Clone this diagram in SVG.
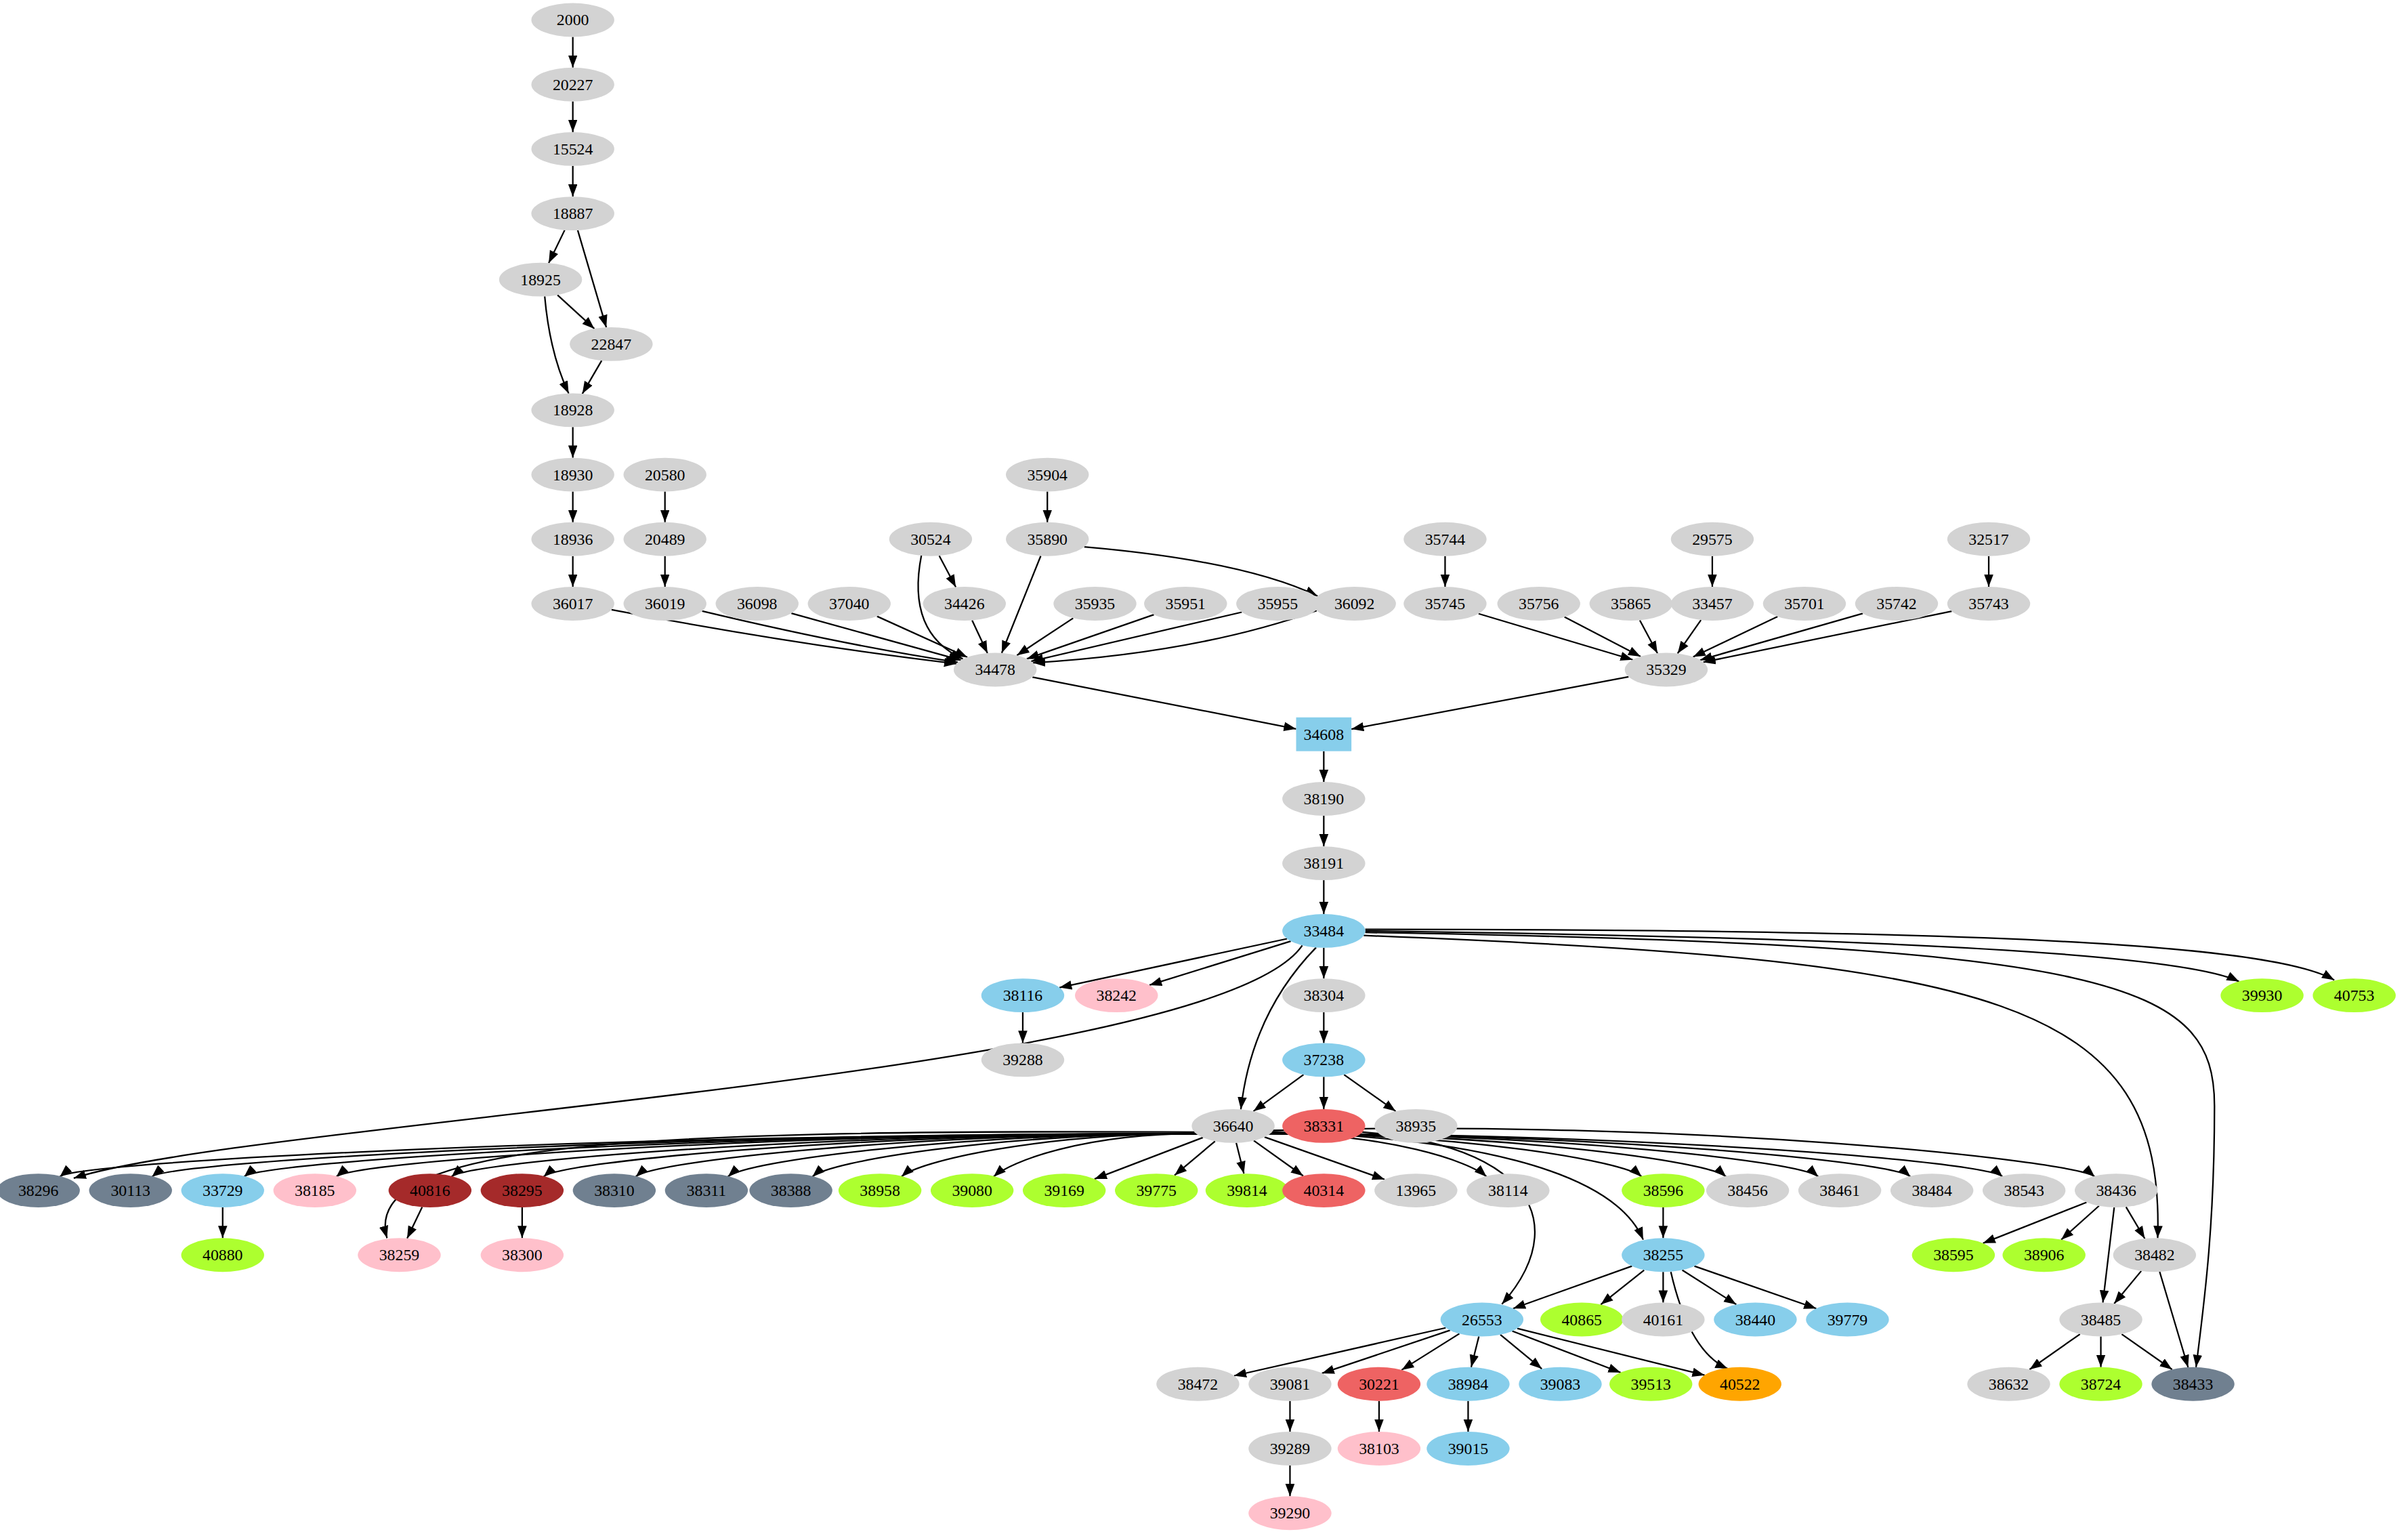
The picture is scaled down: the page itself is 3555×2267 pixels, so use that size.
<svg xmlns="http://www.w3.org/2000/svg" width="3555" height="2267" viewBox="0 0 3555 2267">
<style>
.g{fill:#d3d3d3}.b{fill:#87ceeb}.p{fill:#ffc0cb}.y{fill:#adff2f}.s{fill:#708090}.r{fill:#a52a2a}.e{fill:#ee6363}.o{fill:#ffa500}
text{font-family:"Liberation Serif",serif;font-size:10.5px;text-anchor:middle;dominant-baseline:central;fill:#000}
#edges path{fill:none;stroke:#000;stroke-width:1;marker-end:url(#a)}
</style>
<defs><marker id="a" markerUnits="userSpaceOnUse" markerWidth="10" markerHeight="8" refX="8" refY="3" orient="auto"><path d="M0,0L8,3L0,6z" fill="#000"/></marker></defs>
<rect width="3555" height="2267" fill="#fff"/>
<g transform="scale(2.2672)">
<g id="edges">
<path d="M373,24V44"/><path d="M373,66V86"/><path d="M373,108V128"/>
<path d="M367.7,149.8L357.3,171.2"/><path d="M376.2,149.9L394.8,213.1"/><path d="M363,192L387,214"/>
<path d="M354.7,192.9Q358,230 370.3,256.1"/><path d="M391.8,234.7L379.2,256.3"/>
<path d="M373,278V298"/><path d="M373,320V340"/><path d="M373,362V382"/>
<path d="M433,320V340"/><path d="M433,362V382"/>
<path d="M682,320V340"/><path d="M941,362V382"/><path d="M1115,362V382"/><path d="M1295,362V382"/>
<path d="M398.2,396.9Q520,420 622.8,432.1"/><path d="M457.2,397.8Q550,420 623.8,431.2"/><path d="M515.3,399.2L625.7,429.8"/><path d="M571.1,401.2L629.9,427.8"/>
<path d="M600,361.5Q590,412 627,429"/><path d="M611.6,361.8L622.4,382.2"/><path d="M633,403.8L643,425.2"/>
<path d="M677.7,361.9L652.3,425.1"/><path d="M706,356Q810,365 858,388"/>
<path d="M698.8,402.4L662.2,426.6"/><path d="M751.4,400.1L668.6,428.9"/><path d="M808.6,398.5L671.4,430.5"/><path d="M857.4,397.5Q780,425 672.6,431.5"/>
<path d="M962.8,399.5L1063.2,429.5"/><path d="M1018.7,401.6L1068.3,427.4"/><path d="M1067.8,403.8L1079.3,425.3"/><path d="M1107.6,403.6L1092.4,425.4"/><path d="M1157.5,401.4L1102.5,427.6"/><path d="M1213,399.3L1107,429.7"/><path d="M1270.9,397.9L1109.1,431.1"/>
<path d="M672.3,440.8L844,474.5"/><path d="M1060.5,440.6L880,474.6"/>
<path d="M862,489V509"/><path d="M862,531V551"/><path d="M862,573V595"/>
<path d="M838.1,611.1L689.9,642.9"/><path d="M840.5,612.7L748.5,641.3"/><path d="M862,617V637"/>
<path d="M857,616.8Q815,660 808,722.2"/>
<path d="M848,615.5C790,700 160,730 48,767"/>
<path d="M888,609C1300,625 1410,650 1405,806"/>
<path d="M889,607C1380,615 1442,640 1442,720C1442,800 1435,850 1430,890"/>
<path d="M889,606C1200,610 1420,620 1458,639"/><path d="M889,605C1300,605 1480,615 1520,638"/>
<path d="M666,659V679"/><path d="M862,659V679"/>
<path d="M848.8,699.6L816.2,723.4"/><path d="M862,701V722"/><path d="M875.2,699.6L908.8,723.4"/>
<path d="M780,738C402,738 50,756 39,766"/>
<path d="M780,738C432,738 110,756 99,766"/>
<path d="M780,738C462,738 170,756 159,766"/>
<path d="M780,738C492,738 230,756 219,766"/>
<path d="M780,738C530,738 305,756 294,766"/>
<path d="M780,738C560,738 365,756 354,766"/>
<path d="M780,738C590,738 425,756 414,766"/>
<path d="M780,738C620,738 485,756 474,766"/>
<path d="M780,738C648,738 540,756 529,766"/>
<path d="M780,738C676,738 598,756 587,766"/>
<path d="M780,738C706,738 658,756 647,766"/>
<path d="M783.3,740.5L712.7,767.5"/><path d="M791.2,742.9L764.8,765.1"/>
<path d="M805,744L810,764"/><path d="M816.4,742.5L848.6,765.5"/><path d="M823.4,740.2L901.6,767.8"/>
<path d="M826,738C904,738 957,756 968,766"/>
<path d="M826,738C954,738 1058,756 1069,766"/>
<path d="M826,738C982,738 1113,756 1124,766"/>
<path d="M826,738C1012,738 1173,756 1184,766"/>
<path d="M826,738C1042,738 1233,756 1244,766"/>
<path d="M826,738C1072,738 1293,756 1304,766"/>
<path d="M826,736C1102,728 1353,756 1364,766"/>
<path d="M828,737C950,740 1050,760 1070,807"/>
<path d="M829,736C990,730 1030,790 978,849"/>
<path d="M778,737C400,735 235,745 252,806"/>
<path d="M145,786V806"/><path d="M274.9,785.8L265.1,806.2"/><path d="M340,786V806"/><path d="M1083,786V806"/>
<path d="M1358.7,782.7L1291.3,809.3"/><path d="M1366.8,785L1342.2,807"/><path d="M1384.4,785.7L1396.6,806.3"/><path d="M1376.7,786L1369.3,848"/>
<path d="M1394.3,827.4L1376.7,848.6"/><path d="M1406.3,827.9L1424.8,890.1"/>
<path d="M1354.4,868.5L1321.6,891.5"/><path d="M1368,870V890"/><path d="M1381.6,868.5L1414.4,891.5"/>
<path d="M1062.7,824.2L985.3,851.8"/><path d="M1070.6,826.8L1042.4,849.2"/><path d="M1083,828V848"/><path d="M1095.4,826.8L1130.6,849.2"/><path d="M1103.3,824.2L1182.7,851.8"/>
<path d="M1088,828Q1100,880 1125,891"/>
<path d="M941.4,864.4L803.6,895.6"/><path d="M944.2,866L860.8,894"/><path d="M950.3,868.2L912.7,891.8"/><path d="M963,870L958,890"/><path d="M977,868.9L1004,891.1"/><path d="M984.7,866.5L1055.3,893.5"/><path d="M988,864.75L1110,895.25"/>
<path d="M840,912V932"/><path d="M840,954V974"/><path d="M898,912V932"/><path d="M956,912V932"/>
</g>
<g id="n34608"><rect x="844" y="467" width="36" height="22" class="b"/><text x="862" y="478">34608</text></g>
<g id="n2000"><ellipse cx="373" cy="13" rx="27" ry="11" class="g"/><text x="373" y="13">2000</text></g>
<g id="n20227"><ellipse cx="373" cy="55" rx="27" ry="11" class="g"/><text x="373" y="55">20227</text></g>
<g id="n15524"><ellipse cx="373" cy="97" rx="27" ry="11" class="g"/><text x="373" y="97">15524</text></g>
<g id="n18887"><ellipse cx="373" cy="139" rx="27" ry="11" class="g"/><text x="373" y="139">18887</text></g>
<g id="n18925"><ellipse cx="352" cy="182" rx="27" ry="11" class="g"/><text x="352" y="182">18925</text></g>
<g id="n22847"><ellipse cx="398" cy="224" rx="27" ry="11" class="g"/><text x="398" y="224">22847</text></g>
<g id="n18928"><ellipse cx="373" cy="267" rx="27" ry="11" class="g"/><text x="373" y="267">18928</text></g>
<g id="n18930"><ellipse cx="373" cy="309" rx="27" ry="11" class="g"/><text x="373" y="309">18930</text></g>
<g id="n18936"><ellipse cx="373" cy="351" rx="27" ry="11" class="g"/><text x="373" y="351">18936</text></g>
<g id="n20580"><ellipse cx="433" cy="309" rx="27" ry="11" class="g"/><text x="433" y="309">20580</text></g>
<g id="n20489"><ellipse cx="433" cy="351" rx="27" ry="11" class="g"/><text x="433" y="351">20489</text></g>
<g id="n36017"><ellipse cx="373" cy="393" rx="27" ry="11" class="g"/><text x="373" y="393">36017</text></g>
<g id="n36019"><ellipse cx="433" cy="393" rx="27" ry="11" class="g"/><text x="433" y="393">36019</text></g>
<g id="n36098"><ellipse cx="493" cy="393" rx="27" ry="11" class="g"/><text x="493" y="393">36098</text></g>
<g id="n37040"><ellipse cx="553" cy="393" rx="27" ry="11" class="g"/><text x="553" y="393">37040</text></g>
<g id="n30524"><ellipse cx="606" cy="351" rx="27" ry="11" class="g"/><text x="606" y="351">30524</text></g>
<g id="n34426"><ellipse cx="628" cy="393" rx="27" ry="11" class="g"/><text x="628" y="393">34426</text></g>
<g id="n35904"><ellipse cx="682" cy="309" rx="27" ry="11" class="g"/><text x="682" y="309">35904</text></g>
<g id="n35890"><ellipse cx="682" cy="351" rx="27" ry="11" class="g"/><text x="682" y="351">35890</text></g>
<g id="n35935"><ellipse cx="713" cy="393" rx="27" ry="11" class="g"/><text x="713" y="393">35935</text></g>
<g id="n35951"><ellipse cx="772" cy="393" rx="27" ry="11" class="g"/><text x="772" y="393">35951</text></g>
<g id="n35955"><ellipse cx="832" cy="393" rx="27" ry="11" class="g"/><text x="832" y="393">35955</text></g>
<g id="n36092"><ellipse cx="882" cy="393" rx="27" ry="11" class="g"/><text x="882" y="393">36092</text></g>
<g id="n34478"><ellipse cx="648" cy="436" rx="27" ry="11" class="g"/><text x="648" y="436">34478</text></g>
<g id="n35744"><ellipse cx="941" cy="351" rx="27" ry="11" class="g"/><text x="941" y="351">35744</text></g>
<g id="n35745"><ellipse cx="941" cy="393" rx="27" ry="11" class="g"/><text x="941" y="393">35745</text></g>
<g id="n35756"><ellipse cx="1002" cy="393" rx="27" ry="11" class="g"/><text x="1002" y="393">35756</text></g>
<g id="n35865"><ellipse cx="1062" cy="393" rx="27" ry="11" class="g"/><text x="1062" y="393">35865</text></g>
<g id="n29575"><ellipse cx="1115" cy="351" rx="27" ry="11" class="g"/><text x="1115" y="351">29575</text></g>
<g id="n33457"><ellipse cx="1115" cy="393" rx="27" ry="11" class="g"/><text x="1115" y="393">33457</text></g>
<g id="n35701"><ellipse cx="1175" cy="393" rx="27" ry="11" class="g"/><text x="1175" y="393">35701</text></g>
<g id="n35742"><ellipse cx="1235" cy="393" rx="27" ry="11" class="g"/><text x="1235" y="393">35742</text></g>
<g id="n32517"><ellipse cx="1295" cy="351" rx="27" ry="11" class="g"/><text x="1295" y="351">32517</text></g>
<g id="n35743"><ellipse cx="1295" cy="393" rx="27" ry="11" class="g"/><text x="1295" y="393">35743</text></g>
<g id="n35329"><ellipse cx="1085" cy="436" rx="27" ry="11" class="g"/><text x="1085" y="436">35329</text></g>
<g id="n38190"><ellipse cx="862" cy="520" rx="27" ry="11" class="g"/><text x="862" y="520">38190</text></g>
<g id="n38191"><ellipse cx="862" cy="562" rx="27" ry="11" class="g"/><text x="862" y="562">38191</text></g>
<g id="n33484"><ellipse cx="862" cy="606" rx="27" ry="11" class="b"/><text x="862" y="606">33484</text></g>
<g id="n38116"><ellipse cx="666" cy="648" rx="27" ry="11" class="b"/><text x="666" y="648">38116</text></g>
<g id="n38242"><ellipse cx="727" cy="648" rx="27" ry="11" class="p"/><text x="727" y="648">38242</text></g>
<g id="n38304"><ellipse cx="862" cy="648" rx="27" ry="11" class="g"/><text x="862" y="648">38304</text></g>
<g id="n39930"><ellipse cx="1473" cy="648" rx="27" ry="11" class="y"/><text x="1473" y="648">39930</text></g>
<g id="n40753"><ellipse cx="1533" cy="648" rx="27" ry="11" class="y"/><text x="1533" y="648">40753</text></g>
<g id="n39288"><ellipse cx="666" cy="690" rx="27" ry="11" class="g"/><text x="666" y="690">39288</text></g>
<g id="n37238"><ellipse cx="862" cy="690" rx="27" ry="11" class="b"/><text x="862" y="690">37238</text></g>
<g id="n36640"><ellipse cx="803" cy="733" rx="27" ry="11" class="g"/><text x="803" y="733">36640</text></g>
<g id="n38331"><ellipse cx="862" cy="733" rx="27" ry="11" class="e"/><text x="862" y="733">38331</text></g>
<g id="n38935"><ellipse cx="922" cy="733" rx="27" ry="11" class="g"/><text x="922" y="733">38935</text></g>
<g id="n38296"><ellipse cx="25" cy="775" rx="27" ry="11" class="s"/><text x="25" y="775">38296</text></g>
<g id="n30113"><ellipse cx="85" cy="775" rx="27" ry="11" class="s"/><text x="85" y="775">30113</text></g>
<g id="n33729"><ellipse cx="145" cy="775" rx="27" ry="11" class="b"/><text x="145" y="775">33729</text></g>
<g id="n38185"><ellipse cx="205" cy="775" rx="27" ry="11" class="p"/><text x="205" y="775">38185</text></g>
<g id="n40816"><ellipse cx="280" cy="775" rx="27" ry="11" class="r"/><text x="280" y="775">40816</text></g>
<g id="n38295"><ellipse cx="340" cy="775" rx="27" ry="11" class="r"/><text x="340" y="775">38295</text></g>
<g id="n38310"><ellipse cx="400" cy="775" rx="27" ry="11" class="s"/><text x="400" y="775">38310</text></g>
<g id="n38311"><ellipse cx="460" cy="775" rx="27" ry="11" class="s"/><text x="460" y="775">38311</text></g>
<g id="n38388"><ellipse cx="515" cy="775" rx="27" ry="11" class="s"/><text x="515" y="775">38388</text></g>
<g id="n38958"><ellipse cx="573" cy="775" rx="27" ry="11" class="y"/><text x="573" y="775">38958</text></g>
<g id="n39080"><ellipse cx="633" cy="775" rx="27" ry="11" class="y"/><text x="633" y="775">39080</text></g>
<g id="n39169"><ellipse cx="693" cy="775" rx="27" ry="11" class="y"/><text x="693" y="775">39169</text></g>
<g id="n39775"><ellipse cx="753" cy="775" rx="27" ry="11" class="y"/><text x="753" y="775">39775</text></g>
<g id="n39814"><ellipse cx="812" cy="775" rx="27" ry="11" class="y"/><text x="812" y="775">39814</text></g>
<g id="n40314"><ellipse cx="862" cy="775" rx="27" ry="11" class="e"/><text x="862" y="775">40314</text></g>
<g id="n13965"><ellipse cx="922" cy="775" rx="27" ry="11" class="g"/><text x="922" y="775">13965</text></g>
<g id="n38114"><ellipse cx="982" cy="775" rx="27" ry="11" class="g"/><text x="982" y="775">38114</text></g>
<g id="n38596"><ellipse cx="1083" cy="775" rx="27" ry="11" class="y"/><text x="1083" y="775">38596</text></g>
<g id="n38456"><ellipse cx="1138" cy="775" rx="27" ry="11" class="g"/><text x="1138" y="775">38456</text></g>
<g id="n38461"><ellipse cx="1198" cy="775" rx="27" ry="11" class="g"/><text x="1198" y="775">38461</text></g>
<g id="n38484"><ellipse cx="1258" cy="775" rx="27" ry="11" class="g"/><text x="1258" y="775">38484</text></g>
<g id="n38543"><ellipse cx="1318" cy="775" rx="27" ry="11" class="g"/><text x="1318" y="775">38543</text></g>
<g id="n38436"><ellipse cx="1378" cy="775" rx="27" ry="11" class="g"/><text x="1378" y="775">38436</text></g>
<g id="n40880"><ellipse cx="145" cy="817" rx="27" ry="11" class="y"/><text x="145" y="817">40880</text></g>
<g id="n38259"><ellipse cx="260" cy="817" rx="27" ry="11" class="p"/><text x="260" y="817">38259</text></g>
<g id="n38300"><ellipse cx="340" cy="817" rx="27" ry="11" class="p"/><text x="340" y="817">38300</text></g>
<g id="n38255"><ellipse cx="1083" cy="817" rx="27" ry="11" class="b"/><text x="1083" y="817">38255</text></g>
<g id="n38595"><ellipse cx="1272" cy="817" rx="27" ry="11" class="y"/><text x="1272" y="817">38595</text></g>
<g id="n38906"><ellipse cx="1331" cy="817" rx="27" ry="11" class="y"/><text x="1331" y="817">38906</text></g>
<g id="n38482"><ellipse cx="1403" cy="817" rx="27" ry="11" class="g"/><text x="1403" y="817">38482</text></g>
<g id="n26553"><ellipse cx="965" cy="859" rx="27" ry="11" class="b"/><text x="965" y="859">26553</text></g>
<g id="n40865"><ellipse cx="1030" cy="859" rx="27" ry="11" class="y"/><text x="1030" y="859">40865</text></g>
<g id="n40161"><ellipse cx="1083" cy="859" rx="27" ry="11" class="g"/><text x="1083" y="859">40161</text></g>
<g id="n38440"><ellipse cx="1143" cy="859" rx="27" ry="11" class="b"/><text x="1143" y="859">38440</text></g>
<g id="n39779"><ellipse cx="1203" cy="859" rx="27" ry="11" class="b"/><text x="1203" y="859">39779</text></g>
<g id="n38485"><ellipse cx="1368" cy="859" rx="27" ry="11" class="g"/><text x="1368" y="859">38485</text></g>
<g id="n38472"><ellipse cx="780" cy="901" rx="27" ry="11" class="g"/><text x="780" y="901">38472</text></g>
<g id="n39081"><ellipse cx="840" cy="901" rx="27" ry="11" class="g"/><text x="840" y="901">39081</text></g>
<g id="n30221"><ellipse cx="898" cy="901" rx="27" ry="11" class="e"/><text x="898" y="901">30221</text></g>
<g id="n38984"><ellipse cx="956" cy="901" rx="27" ry="11" class="b"/><text x="956" y="901">38984</text></g>
<g id="n39083"><ellipse cx="1016" cy="901" rx="27" ry="11" class="b"/><text x="1016" y="901">39083</text></g>
<g id="n39513"><ellipse cx="1075" cy="901" rx="27" ry="11" class="y"/><text x="1075" y="901">39513</text></g>
<g id="n40522"><ellipse cx="1133" cy="901" rx="27" ry="11" class="o"/><text x="1133" y="901">40522</text></g>
<g id="n38632"><ellipse cx="1308" cy="901" rx="27" ry="11" class="g"/><text x="1308" y="901">38632</text></g>
<g id="n38724"><ellipse cx="1368" cy="901" rx="27" ry="11" class="y"/><text x="1368" y="901">38724</text></g>
<g id="n38433"><ellipse cx="1428" cy="901" rx="27" ry="11" class="s"/><text x="1428" y="901">38433</text></g>
<g id="n39289"><ellipse cx="840" cy="943" rx="27" ry="11" class="g"/><text x="840" y="943">39289</text></g>
<g id="n38103"><ellipse cx="898" cy="943" rx="27" ry="11" class="p"/><text x="898" y="943">38103</text></g>
<g id="n39015"><ellipse cx="956" cy="943" rx="27" ry="11" class="b"/><text x="956" y="943">39015</text></g>
<g id="n39290"><ellipse cx="840" cy="985" rx="27" ry="11" class="p"/><text x="840" y="985">39290</text></g>
</g>
</svg>
